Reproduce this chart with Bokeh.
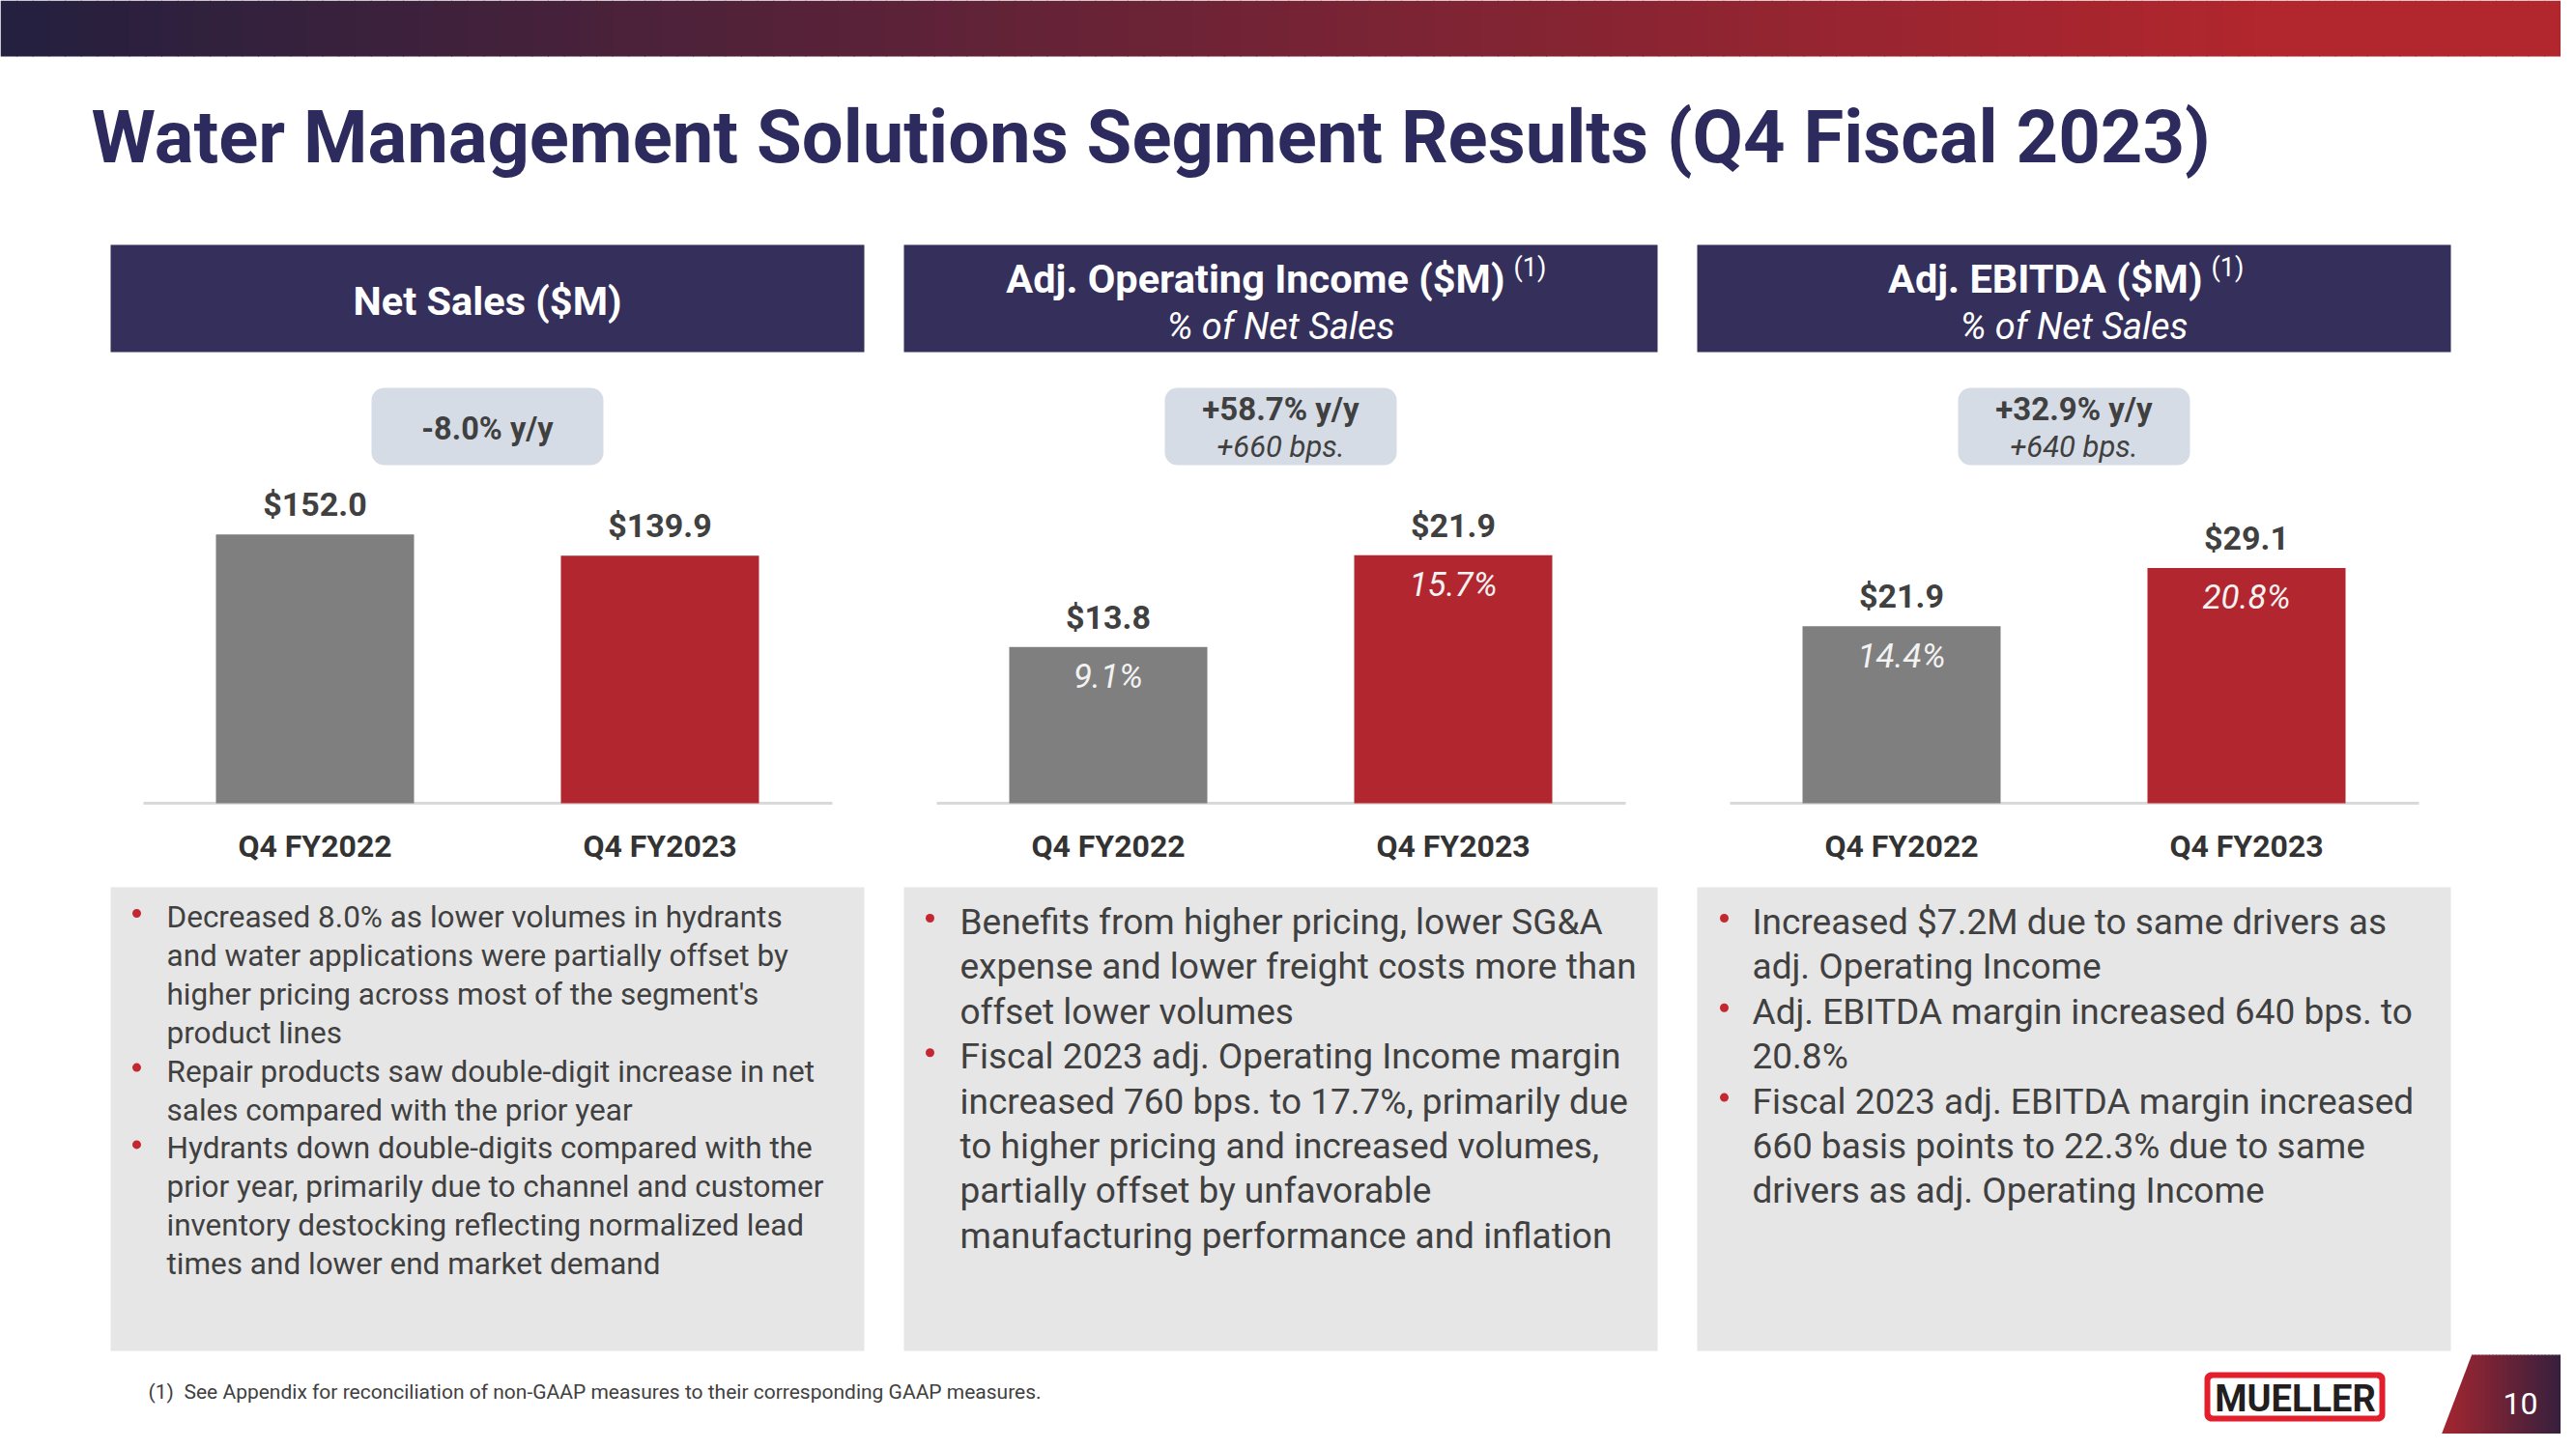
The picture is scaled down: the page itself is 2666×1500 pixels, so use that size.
import numpy as np
from bokeh.plotting import figure
from bokeh.models import Range1d, ColumnDataSource
from bokeh.embed import file_html
from bokeh.resources import INLINE
from bokeh.core.properties import value

# ---------------- data ----------------
title = "Water Management Solutions Segment Results (Q4 Fiscal 2023)"
categories = ["Q4 FY2022", "Q4 FY2023"]
panel_keys = ["ns", "oi", "eb"]
panel_titles = ["Net Sales ($M)", "Adj. Operating Income ($M)", "Adj. EBITDA ($M)"]
panel_notes = ["", "(1)", "(1)"]
panel_subtitles = ["", "% of Net Sales", "% of Net Sales"]
net_sales = [152.0, 139.9]
adj_operating_income = [13.8, 21.9]
adj_operating_margin = [9.1, 15.7]
adj_ebitda = [21.9, 29.1]
adj_ebitda_margin = [14.4, 20.8]
axis_max = [160, 25, 35]
yoy_labels = ["-8.0% y/y", "+58.7% y/y", "+32.9% y/y"]
bps_labels = ["", "+660 bps.", "+640 bps."]
bullets_net_sales = [
    ["Decreased 8.0% as lower volumes in hydrants",
     "and water applications were partially offset by",
     "higher pricing across most of the segment's",
     "product lines"],
    ["Repair products saw double-digit increase in net",
     "sales compared with the prior year"],
    ["Hydrants down double-digits compared with the",
     "prior year, primarily due to channel and customer",
     "inventory destocking reflecting normalized lead",
     "times and lower end market demand"],
]
bullets_operating_income = [
    ["Benefits from higher pricing, lower SG&A",
     "expense and lower freight costs more than",
     "offset lower volumes"],
    ["Fiscal 2023 adj. Operating Income margin",
     "increased 760 bps. to 17.7%, primarily due",
     "to higher pricing and increased volumes,",
     "partially offset by unfavorable",
     "manufacturing performance and inflation"],
]
bullets_ebitda = [
    ["Increased $7.2M due to same drivers as",
     "adj. Operating Income"],
    ["Adj. EBITDA margin increased 640 bps. to",
     "20.8%"],
    ["Fiscal 2023 adj. EBITDA margin increased",
     "660 basis points to 22.3% due to same",
     "drivers as adj. Operating Income"],
]
footnote_mark = "(1)"
footnote = "See Appendix for reconciliation of non-GAAP measures to their corresponding GAAP measures."
logo_text = "MUELLER"
page_number = "10"

# ---------------- style / layout ----------------
FONT = value("Roboto")
NAVY = "#352f5b"
TITLE_C = "#2d2a5e"
TXT = "#404040"
GRAY_BAR = "#7f7f7f"
RED_BAR = "#b1262f"
PILL = "#d6dce5"
BOX = "#e6e6e6"
BULLET = "#c3272f"
bar_colors = [GRAY_BAR, RED_BAR]

W, H, M = 2650, 1484, 0
panel_left = [114, 935, 1756]
panel_w = 780
base_px, top_px = 831, 538
slot_px = 357.0
bar_px = 205.0

p = figure(width=W, height=H, x_range=Range1d(M, M + W), y_range=Range1d(M + H, M),
           output_backend="svg", toolbar_location=None, min_border=0,
           x_axis_location=None, y_axis_location=None, title=None,
           outline_line_color=None, background_fill_color="white",
           border_fill_color="white")
p.grid.visible = False

# per-panel scales: category slot index -> horizontal position, value -> vertical position
xr, yr = {}, {}
for k, left, ymax in zip(panel_keys, panel_left, axis_max):
    cx = left + panel_w / 2
    mid = (len(categories) - 1) / 2
    xr[k] = Range1d(start=mid - (cx - M) / slot_px, end=mid + (M + W - cx) / slot_px)
    per = ymax / (base_px - top_px)
    yr[k] = Range1d(start=-per * (M + H - base_px), end=per * (base_px - M))
p.extra_x_ranges = xr
p.extra_y_ranges = yr


def txt(x, y, s, size, color=TXT, style="normal", align="left", baseline="middle"):
    p.text(x=[x], y=[y], text=[s], text_font=FONT, text_font_size=f"{size}px",
           text_font_style=style, text_color=color, text_align=align,
           text_baseline=baseline)


def rrect(x0, y0, x1, y1, r, n=10):
    xs, ys = [], []
    for cx, cy, a0, a1 in [(x1 - r, y0 + r, -90, 0), (x1 - r, y1 - r, 0, 90),
                           (x0 + r, y1 - r, 90, 180), (x0 + r, y0 + r, 180, 270)]:
        for a in np.radians(np.linspace(a0, a1, n)):
            xs.append(cx + r * np.cos(a))
            ys.append(cy + r * np.sin(a))
    return xs, ys


def lerp_colors(c0, c1, n):
    a = np.array([int(c0[i:i + 2], 16) for i in (1, 3, 5)], float)
    b = np.array([int(c1[i:i + 2], 16) for i in (1, 3, 5)], float)
    out = []
    for t in np.linspace(0, 1, n):
        c = a + (b - a) * t
        out.append("#%02x%02x%02x" % tuple(int(round(v)) for v in c))
    return out


# top gradient band
n = 160
xs = np.linspace(0, 2666, n + 1)
t = np.clip(np.linspace(0, 1, n) / 0.88, 0, 1)
cols = lerp_colors("#24203f", "#b2262d", 200)
gcols = [cols[int(v * 199)] for v in t]
p.quad(left=xs[:-1], right=xs[1:] + 1, top=0, bottom=58, fill_color=gcols, line_color=None)

# title
txt(94, 141, title, 76, TITLE_C, "bold")

# panels
for i, left in enumerate(panel_left):
    cx = left + panel_w / 2
    # header
    p.quad(left=[left], right=[left + panel_w], top=[253], bottom=[364], fill_color=NAVY, line_color=None)
    if panel_subtitles[i]:
        right_edge = [None, 1557, 2279][i]
        txt(right_edge, 288, panel_titles[i], 41.5, "white", "bold", align="right")
        txt(right_edge + 9, 276, panel_notes[i], 27, "white")
        txt(cx, 337, panel_subtitles[i], 38, "white", "italic", align="center")
    else:
        txt(cx, 311, panel_titles[i], 41.5, "white", "bold", align="center")
    # pill
    px, py = rrect(cx - 120, 401, cx + 120, 481, 13)
    p.patch(px, py, fill_color=PILL, line_color=None)
    if bps_labels[i]:
        txt(cx, 423, yoy_labels[i], 33, TXT, "bold", align="center")
        txt(cx, 462, bps_labels[i], 31, TXT, "italic", align="center")
    else:
        txt(cx, 443, yoy_labels[i], 32.5, TXT, "bold", align="center")
    # text box
    p.quad(left=[left], right=[left + panel_w], top=[918], bottom=[1398], fill_color=BOX, line_color=None)
    # baseline (axis line)
    p.segment(x0=[left + 34], x1=[left + 747], y0=[0], y1=[0], y_range_name=panel_keys[i],
              line_color="#d9d9d9", line_width=3)

# bars
series = [net_sales, adj_operating_income, adj_ebitda]
margins = [None, adj_operating_margin, adj_ebitda_margin]
for k, vals, mg in zip(panel_keys, series, margins):
    src = ColumnDataSource(dict(
        x=list(range(len(categories))), top=vals, color=bar_colors,
        cat=categories, label=[f"${v:.1f}" for v in vals],
        pct=[f"{m:.1f}%" for m in mg] if mg else ["", ""]))
    p.vbar(x="x", top="top", bottom=0, width=bar_px / slot_px, fill_color="color", line_color=None,
           source=src, x_range_name=k, y_range_name=k)
    p.text(x="x", y="top", text="label", source=src, x_range_name=k, y_range_name=k,
           y_offset=-31, text_align="center", text_baseline="middle", text_font=FONT,
           text_font_size="34px", text_font_style="bold", text_color=TXT)
    p.text(x="x", y=0, text="cat", source=src, x_range_name=k, y_range_name=k,
           y_offset=44, text_align="center", text_baseline="middle", text_font=FONT,
           text_font_size="32px", text_font_style="bold", text_color="#333333")
    if mg:
        p.text(x="x", y="top", text="pct", source=src, x_range_name=k, y_range_name=k,
               y_offset=31, text_align="center", text_baseline="middle", text_font=FONT,
               text_font_size="35px", text_font_style="italic", text_color="#f2f2f2")

# bullet texts
bullet_sets = [bullets_net_sales, bullets_operating_income, bullets_ebitda]
text_x = [172, 993, 1813]
dot_x = [141, 962, 1784]
first_y = [949, 954, 954]
spacing = [39.9, 46.4, 46.4]
sizes = [31.5, 37, 37]
for i, bset in enumerate(bullet_sets):
    line = 0
    lx, ly, lt, bx, by = [], [], [], [], []
    for b in bset:
        for j, s in enumerate(b):
            y = first_y[i] + line * spacing[i]
            lx.append(text_x[i]); ly.append(y); lt.append(s)
            if j == 0:
                bx.append(dot_x[i]); by.append(y - 4)
            line += 1
    p.text(x=lx, y=ly, text=lt, text_font=FONT, text_font_size=f"{sizes[i]}px",
           text_color=TXT, text_align="left", text_baseline="middle")
    p.scatter(x=bx, y=by, size=9, marker="circle", fill_color=BULLET, line_color=None)

# footnote
txt(153, 1440, footnote_mark, 21, TXT)
txt(190, 1440, footnote, 21, TXT)

# logo
lx, ly = rrect(2281, 1420, 2468, 1471, 7)
p.patch(lx, ly, fill_color="#e31e2d", line_color=None)
lx, ly = rrect(2287, 1426, 2462, 1465, 3)
p.patch(lx, ly, fill_color="white", line_color=None)
txt(2375, 1447, logo_text, 38, "#231f20", "bold", align="center")

# page number block
n2 = 40
xs2 = np.linspace(2521, 2666, n2 + 1)
pc = lerp_colors("#a8262f", "#2a1f3f", n2)
p.quad(left=xs2[:-1], right=xs2[1:] + 1, top=1402, bottom=1500, fill_color=pc, line_color=None)
p.patch([2520, 2558, 2520], [1401, 1401, 1501], fill_color="white", line_color=None)
txt(2608, 1452, page_number, 32, "white", align="center")

open("out.html", "w").write(file_html(p, INLINE))
